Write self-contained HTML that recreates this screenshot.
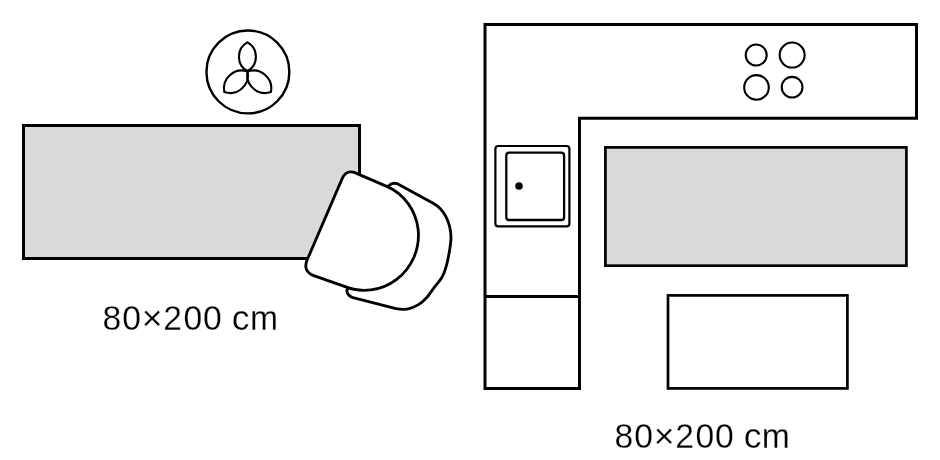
<!DOCTYPE html>
<html><head><meta charset="utf-8">
<style>
html,body{margin:0;padding:0;background:#fff;width:940px;height:460px;overflow:hidden}
svg{display:block}
text{font-family:"Liberation Sans",sans-serif}
</style></head>
<body>
<svg width="940" height="460" viewBox="0 0 940 460">
<rect width="940" height="460" fill="#fff"/>
<!-- left table -->
<rect x="23.5" y="125.5" width="336" height="133" fill="#d9d9d9" stroke="#000" stroke-width="3"/>
<!-- fan -->
<circle cx="247.9" cy="71.95" r="41.45" fill="#fff" stroke="#000" stroke-width="2.4"/>
<g fill="none" stroke="#000" stroke-width="2.1" stroke-linejoin="miter">
<path d="M247.4,42.3 A16.4,16.4 0 0 1 247.4,71 A16.4,16.4 0 0 1 247.4,42.3 Z"/>
<path d="M247.6,71.5 A17.9,17.9 0 0 1 224.3,92 A17.9,17.9 0 0 1 247.6,71.5 Z"/>
<path d="M247.6,71.5 A17.9,17.9 0 0 0 270.9,92 A17.9,17.9 0 0 0 247.6,71.5 Z"/>
</g>
<!-- chair back -->
<path d="M384,195 L389,185.5 Q392,182.3 397,183.6 L433.1,203.3 C443.7,208.9 451,222.3 451,238.3 C450.80,242.13 450.55,244.48 449.80,249.00 C449.05,253.52 447.80,260.70 446.50,265.40 C445.20,270.10 444.07,273.50 442.00,277.20 C439.93,280.90 436.72,284.13 434.10,287.60 C431.48,291.07 428.90,295.17 426.30,298.00 C423.70,300.83 421.55,302.80 418.50,304.60 C415.45,306.40 411.92,308.17 408.00,308.80 C404.08,309.43 404.17,310.25 395.00,308.40 L353,297.7 Q347.5,295.8 346.8,291 L350,282 Z" fill="#fff" stroke="#000" stroke-width="2.8" stroke-linejoin="round"/>
<!-- chair seat -->
<path d="M355.94,173.15 L386.71,186.40 C395.26,190.08 402.66,196.00 408.17,203.57 C413.69,211.13 417.12,220.07 418.13,229.50 C419.14,238.92 417.68,248.49 413.91,257.24 C410.14,265.99 404.19,273.63 396.65,279.37 C389.11,285.11 380.26,288.76 370.97,289.95 C361.69,291.14 352.30,289.83 343.76,286.15 L314.44,275.84 Q302.16,271.50 307.30,259.56 L342.15,178.64 Q346.30,169.00 355.94,173.15 Z" fill="#fff" stroke="#000" stroke-width="2.8"/>
<g fill="#000" stroke="#fff" stroke-width="0.25" font-size="35.5" text-anchor="middle" style="will-change:transform">
<text x="112.0" y="329.5" transform="translate(112.0,0) scale(0.950,1) translate(-112.0,0) rotate(0.01)">8</text>
<text x="131.8" y="329.5" transform="translate(131.8,0) scale(0.950,1) translate(-131.8,0) rotate(0.01)">0</text>
<text x="152.2" y="329.5" transform="translate(152.2,0) scale(1.000,1) translate(-152.2,0) rotate(0.01)">&#215;</text>
<text x="172.7" y="329.5" transform="translate(172.7,0) scale(0.950,1) translate(-172.7,0) rotate(0.01)">2</text>
<text x="193.0" y="329.5" transform="translate(193.0,0) scale(0.950,1) translate(-193.0,0) rotate(0.01)">0</text>
<text x="212.5" y="329.5" transform="translate(212.5,0) scale(0.950,1) translate(-212.5,0) rotate(0.01)">0</text>
<text x="240.7" y="329.5" transform="translate(240.7,0) scale(1.000,1) translate(-240.7,0) rotate(0.01)">c</text>
<text x="264.0" y="329.5" transform="translate(264.0,0) scale(0.950,1) translate(-264.0,0) rotate(0.01)">m</text>
</g>

<!-- kitchen L -->
<path d="M485,24.5 L916.5,24.5 L916.5,118.3 L579.5,118.3 L579.5,388.5 L485,388.5 Z" fill="#fff" stroke="#000" stroke-width="3"/>
<line x1="485" y1="296.5" x2="579.5" y2="296.5" stroke="#000" stroke-width="3"/>
<!-- sink -->
<rect x="495.4" y="146" width="74" height="80.3" rx="2.8" fill="#fff" stroke="#000" stroke-width="2.2"/>
<rect x="506.3" y="152.6" width="57.8" height="67.4" rx="2.8" fill="#fff" stroke="#000" stroke-width="2.3"/>
<circle cx="519" cy="186" r="3.8" fill="#000"/>
<!-- hobs -->
<g fill="none" stroke="#000" stroke-width="2.1">
<circle cx="756.2" cy="55.05" r="10.5"/>
<circle cx="792.15" cy="55.05" r="12.5"/>
<circle cx="756.5" cy="87.4" r="12.3"/>
<circle cx="792.1" cy="87.2" r="10.35"/>
</g>
<!-- right gray -->
<rect x="605.4" y="147.4" width="301" height="118.3" fill="#d9d9d9" stroke="#000" stroke-width="2.7"/>
<rect x="668" y="295.4" width="179.4" height="93" fill="#fff" stroke="#000" stroke-width="2.7"/>
<g fill="#000" stroke="#fff" stroke-width="0.25" font-size="35.5" text-anchor="middle" style="will-change:transform">
<text x="624.0" y="448" transform="translate(624.0,0) scale(0.950,1) translate(-624.0,0) rotate(0.01)">8</text>
<text x="643.8" y="448" transform="translate(643.8,0) scale(0.950,1) translate(-643.8,0) rotate(0.01)">0</text>
<text x="664.2" y="448" transform="translate(664.2,0) scale(1.000,1) translate(-664.2,0) rotate(0.01)">&#215;</text>
<text x="684.7" y="448" transform="translate(684.7,0) scale(0.950,1) translate(-684.7,0) rotate(0.01)">2</text>
<text x="705.0" y="448" transform="translate(705.0,0) scale(0.950,1) translate(-705.0,0) rotate(0.01)">0</text>
<text x="724.5" y="448" transform="translate(724.5,0) scale(0.950,1) translate(-724.5,0) rotate(0.01)">0</text>
<text x="752.7" y="448" transform="translate(752.7,0) scale(1.000,1) translate(-752.7,0) rotate(0.01)">c</text>
<text x="776.0" y="448" transform="translate(776.0,0) scale(0.950,1) translate(-776.0,0) rotate(0.01)">m</text>
</g>
</svg>
</body></html>
